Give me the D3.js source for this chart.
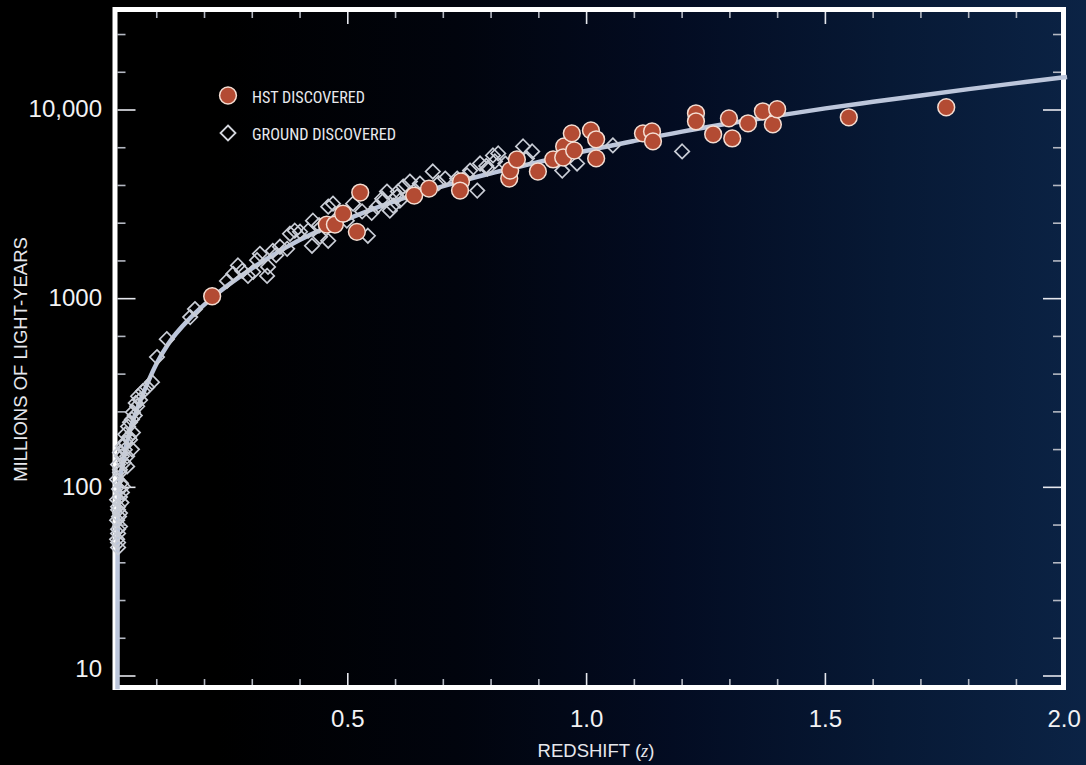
<!DOCTYPE html>
<html><head><meta charset="utf-8">
<script src="https://cdn.jsdelivr.net/npm/d3@7"></script>
<style>html,body{margin:0;padding:0;background:#000;}svg{display:block;}</style>
</head><body><svg id="c" width="1086" height="765"></svg>
<script>
// ---- data ----
const hstZ = [0.216,0.456,0.473,0.490,0.519,0.526,0.639,0.670,0.737,0.735,0.838,0.840,0.854,0.898,0.930,0.953,0.951,0.969,0.974,1.009,1.020,1.020,1.118,1.137,1.139,1.229,1.229,1.265,1.298,1.305,1.338,1.369,1.390,1.399,1.549,1.753];
const hstV = [1030,2470,2470,2820,2260,3650,3520,3830,4180,3740,4330,4780,5470,4720,5470,6410,5600,7520,6100,7800,6990,5540,7520,7700,6820,9600,8710,7430,9030,7070,8500,9840,8390,10090,9150,10340];

const groundZ = [0.017,0.019,0.019,0.019,0.019,0.023,0.017,0.023,0.019,0.019,0.017,0.023,0.027,0.029,0.017,0.023,0.023,0.038,0.019,0.027,0.038,0.023,0.048,0.029,0.034,0.044,0.034,0.050,0.040,0.044,0.048,0.050,0.059,0.061,0.071,0.080,0.090,0.1005,0.121,0.170,0.180,
  0.021,0.026,0.021,0.025,0.031,0.033,0.042,0.054,0.056,0.065,
  0.247,0.260,0.279,0.291,0.302,0.316,0.333,0.331,0.343,0.358,0.373,0.379,0.389,0.400,0.417,0.427,0.425,0.442,0.459,0.459,0.469,0.498,0.511,0.542,0.561,0.572,0.582,0.595,0.603,0.588,0.574,0.605,0.616,0.630,0.609,0.651,0.678,0.704,0.729,0.756,0.777,0.792,0.771,0.804,0.815,0.808,0.867,0.886,0.875,0.949,0.980,1.055,1.200,
  0.270,0.310,0.350,0.440,0.480,0.530,0.550,0.640,0.690,0.750,0.790,0.830];
const groundV = [53,48,51,57,60,62,67,73,76,79,86,89,94,101,110,120,124,129,132,146,146,153,159,165,173,179,191,195,210,221,229,250,269,304,323,339,361,490,610,799,881,
  70,83,98,105,135,158,185,240,280,290,
  1242,1353,1404,1320,1387,1729,1474,1320,1794,1884,1838,2208,2292,2263,2292,2590,1907,2129,2027,3074,3189,2590,3189,2155,3074,3390,3694,3112,3474,2927,3308,3694,3928,4176,3308,4075,4720,4332,4332,4777,5206,4895,3740,5741,5885,5336,6410,6030,5534,4777,5206,6490,6030,
  1500,1600,1700,2450,2700,2900,2850,3750,4100,4500,5050,5200];

const curveZ = [0.0178,0.0180,0.022,0.030,0.044,0.060,0.075,0.100,0.124,0.170,0.216,0.300,0.400,0.500,0.600,0.700,0.800,0.900,1.000,1.100,1.200,1.300,1.400,1.500,1.600,1.700,1.800,1.900,2.000,2.006];
const curveV = [8.5,48,100,140,200,265,330,455,575,790,1010,1450,2050,2650,3300,3950,4620,5300,6080,6860,7680,8500,9330,10200,11050,11950,12900,13880,14900,14960];

const xTickLabels = ["0.5","1.0","1.5","2.0"];
const yTickLabels = ["10","100","1000","10,000"];
const legendLabels = ["HST DISCOVERED","GROUND DISCOVERED"];
const xTitle = "REDSHIFT (";
const yTitle = "MILLIONS OF LIGHT-YEARS";

// ---- drawing ----
const svg = d3.select("#c");
const W = 1086, H = 765;
const frame = {l:115, r:1063.5, t:9.5, b:687.5};

const x = d3.scaleLinear().domain([0, 2]).range([109, 1064.2]);
const y = d3.scaleLog().domain([10, 10000]).range([676, 110]);

const defs = svg.append("defs");
const g = defs.append("linearGradient").attr("id","bg").attr("x1","0").attr("x2","1").attr("y1","0").attr("y2","0");
[[0,"#000000"],[0.2,"#000000"],[0.42,"#01040d"],[0.62,"#030c22"],[0.82,"#071935"],[1,"#0b2345"]].forEach(s=>g.append("stop").attr("offset",s[0]).attr("stop-color",s[1]));
svg.append("rect").attr("width",W).attr("height",H).attr("fill","url(#bg)");

// ticks
const tk = svg.append("g");
const xt = d3.range(1,20).map(i=>i/10);
xt.forEach(t=>{
  const major = Math.abs(t*2 - Math.round(t*2))<1e-9;
  const len = major?12:6;
  const col = major?"#e6e8ee":"#b4b8c2";
  tk.append("line").attr("x1",x(t)).attr("x2",x(t)).attr("y1",frame.b-2.5).attr("y2",frame.b-2.5-len).attr("stroke",col).attr("stroke-width",1.6);
  tk.append("line").attr("x1",x(t)).attr("x2",x(t)).attr("y1",frame.t+2.5).attr("y2",frame.t+2.5+len).attr("stroke",col).attr("stroke-width",1.6);
});
const yt = d3.range(5,23).map(i=>Math.pow(10,i*0.2));
yt.forEach((v,i)=>{
  const e = (i+5)*0.2;
  const major = Math.abs(e-Math.round(e))<1e-9;
  const len = major?18:8;
  const col = major?"#e6e8ee":"#b4b8c2";
  tk.append("line").attr("y1",y(v)).attr("y2",y(v)).attr("x1",frame.l+2.5).attr("x2",frame.l+2.5+len).attr("stroke",col).attr("stroke-width",1.6);
  tk.append("line").attr("y1",y(v)).attr("y2",y(v)).attr("x1",frame.r-2.5).attr("x2",frame.r-2.5-len).attr("stroke",col).attr("stroke-width",1.6);
});

// frame
svg.append("rect").attr("x",frame.l).attr("y",frame.t).attr("width",frame.r-frame.l).attr("height",frame.b-frame.t)
  .attr("fill","none").attr("stroke","#ffffff").attr("stroke-width",5);

// curve
const line = d3.line().x((d,i)=>x(curveZ[i])).y((d,i)=>y(curveV[i])).curve(d3.curveMonotoneX);
svg.append("path").datum(curveZ).attr("d",line).attr("fill","none").attr("stroke","#bcc6db").attr("stroke-width",4.5);

// diamonds
const dsz = 7.2;
const diamond = (cx,cy,s)=>`M${cx},${cy-s}L${cx+s},${cy}L${cx},${cy+s}L${cx-s},${cy}Z`;
svg.append("g").selectAll("path").data(groundZ).join("path")
  .attr("d",(d,i)=>diamond(x(d),y(groundV[i]),dsz))
  .attr("fill","none").attr("stroke","#c9cdd6").attr("stroke-width",1.7);

// HST circles
svg.append("g").selectAll("circle").data(hstZ).join("circle")
  .attr("cx",d=>x(d)).attr("cy",(d,i)=>y(hstV[i])).attr("r",8.4)
  .attr("fill","#b34b33").attr("stroke","#f4ddd2").attr("stroke-width",1.5);

// legend
svg.append("circle").attr("cx",228).attr("cy",95.5).attr("r",8.4).attr("fill","#b34b33").attr("stroke","#f4ddd2").attr("stroke-width",1.5);
svg.append("path").attr("d",diamond(228,133,7.5)).attr("fill","none").attr("stroke","#d4d7de").attr("stroke-width",1.8);
const lfont = "'Liberation Sans Narrow','Roboto Condensed','Liberation Sans',Arial,sans-serif";
svg.append("text").attr("x",252).attr("y",102.5).text(legendLabels[0]).attr("fill","#e8e9ee")
  .attr("font-family",lfont).attr("font-size",16.5).attr("textLength",113).attr("lengthAdjust","spacingAndGlyphs");
svg.append("text").attr("x",252).attr("y",140).text(legendLabels[1]).attr("fill","#e8e9ee")
  .attr("font-family",lfont).attr("font-size",16.5).attr("textLength",144).attr("lengthAdjust","spacingAndGlyphs");

// tick labels
const tfont = "'Liberation Sans',Arial,Helvetica,sans-serif";
const xTickVals = [0.5,1.0,1.5,2.0];
svg.append("g").selectAll("text").data(xTickVals).join("text")
  .attr("x",d=>x(d)).attr("y",727).attr("text-anchor","middle")
  .attr("font-family",tfont).attr("font-size",24).attr("fill","#f2f2f4")
  .text((d,i)=>xTickLabels[i]);
const yTickVals = [10,100,1000,10000];
svg.append("g").selectAll("text").data(yTickVals).join("text")
  .attr("x",102).attr("y",d=>y(d) + (d===10 ? 1 : 7.2)).attr("text-anchor","end")
  .attr("font-family",tfont).attr("font-size",24).attr("fill","#f2f2f4")
  .text((d,i)=>yTickLabels[i]);

// axis titles
const xt2 = svg.append("text").attr("x",596).attr("y",757).attr("text-anchor","middle")
  .attr("font-family",tfont).attr("font-size",18.5).attr("fill","#e6e7ec");
xt2.append("tspan").text(xTitle);
xt2.append("tspan").text("z").attr("font-family","'Liberation Serif','DejaVu Serif',serif").attr("font-style","italic");
xt2.append("tspan").text(")");
svg.append("text").attr("transform","translate(27,359.5) rotate(-90)").attr("text-anchor","middle")
  .attr("font-family",tfont).attr("font-size",18.5).attr("fill","#e6e7ec").text(yTitle);
</script></body></html>
